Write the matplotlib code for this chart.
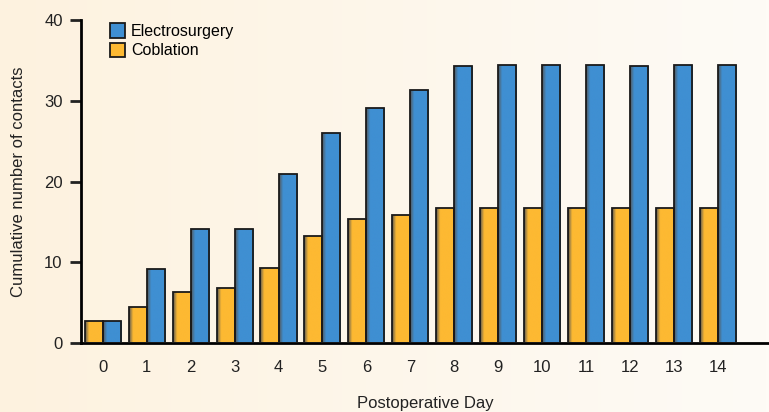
import numpy as np
import matplotlib.pyplot as plt
from matplotlib.colors import LinearSegmentedColormap

days = list(range(15))
electro = [2.7, 9.25, 14.1, 14.1, 21.0, 26.0, 29.1, 31.4, 34.3, 34.4, 34.4, 34.4, 34.3, 34.4, 34.4]
coblation = [2.7, 4.5, 6.35, 6.8, 9.3, 13.3, 15.4, 15.85, 16.75, 16.75, 16.7, 16.8, 16.7, 16.7, 16.7]

blue = '#3f8fd2'
orange = '#fdb932'

plt.rcParams['font.family'] = ['Liberation Sans Narrow', 'Liberation Sans', 'DejaVu Sans']

fig = plt.figure(figsize=(7.69, 4.12), dpi=100)

# cream background gradient
bg = fig.add_axes([0, 0, 1, 1], zorder=-10)
grad = np.linspace(0, 1, 256).reshape(1, -1)
bg_cmap = LinearSegmentedColormap.from_list('bg', ['#fdf2df', '#fefbf6'])
bg.imshow(grad, aspect='auto', cmap=bg_cmap, extent=[0, 1, 0, 1])
bg.axis('off')

ax = fig.add_axes([0.105, 0.167, 0.895, 0.784])
ax.patch.set_alpha(0)

x = np.array(days)
w = 0.41
b1 = ax.bar(x - w / 2, coblation, w, color=orange, edgecolor='#1a1a1a', linewidth=1.3, label='Coblation', zorder=3)
b2 = ax.bar(x + w / 2, electro, w, color=blue, edgecolor='#1a1a1a', linewidth=1.3, label='Electrosurgery', zorder=3)


def shade(bars, col):
    # darker strip on the left edge of each bar, like the original
    cmap = LinearSegmentedColormap.from_list('s', [(0, '#555555'), (0.22, col), (1, col)])
    for p in bars:
        x0, y0 = p.get_x(), p.get_y()
        im = ax.imshow(grad, aspect='auto', cmap=cmap, interpolation='bilinear',
                       extent=[x0, x0 + p.get_width(), y0, y0 + p.get_height()], zorder=2.5)
        im.set_clip_path(p)
        p.set_facecolor('none')


shade(b1, orange)
shade(b2, blue)

ax.set_xlim(-0.5, 15.16)
ax.set_ylim(0, 40)
ax.set_yticks([0, 10, 20, 30, 40])
ax.set_xticks(days)
ax.spines['top'].set_visible(False)
ax.spines['right'].set_visible(False)
ax.spines['left'].set_linewidth(2)
ax.spines['bottom'].set_linewidth(2)
ax.tick_params(axis='y', length=8, width=2, pad=5, labelsize=12, colors='#222222')
ax.tick_params(axis='x', length=0, pad=12, labelsize=12, colors='#222222')
ax.set_ylabel('Cumulative number of contacts', fontsize=12, color='#222222')
ax.yaxis.set_label_coords(-0.08, 0.5)
ax.set_xlabel('Postoperative Day', fontsize=12, color='#222222')
ax.xaxis.set_label_coords(0.5, -0.165)

leg = ax.legend([b2, b1], ['Electrosurgery', 'Coblation'], loc='upper left',
                bbox_to_anchor=(0.022, 1.035), frameon=False, fontsize=11.5,
                handlelength=0.9, handleheight=1.0, handletextpad=0.4, labelspacing=0.25)
leg.legend_handles[0].set_facecolor(blue)
leg.legend_handles[1].set_facecolor(orange)

fig.savefig('out.png', dpi=100)
